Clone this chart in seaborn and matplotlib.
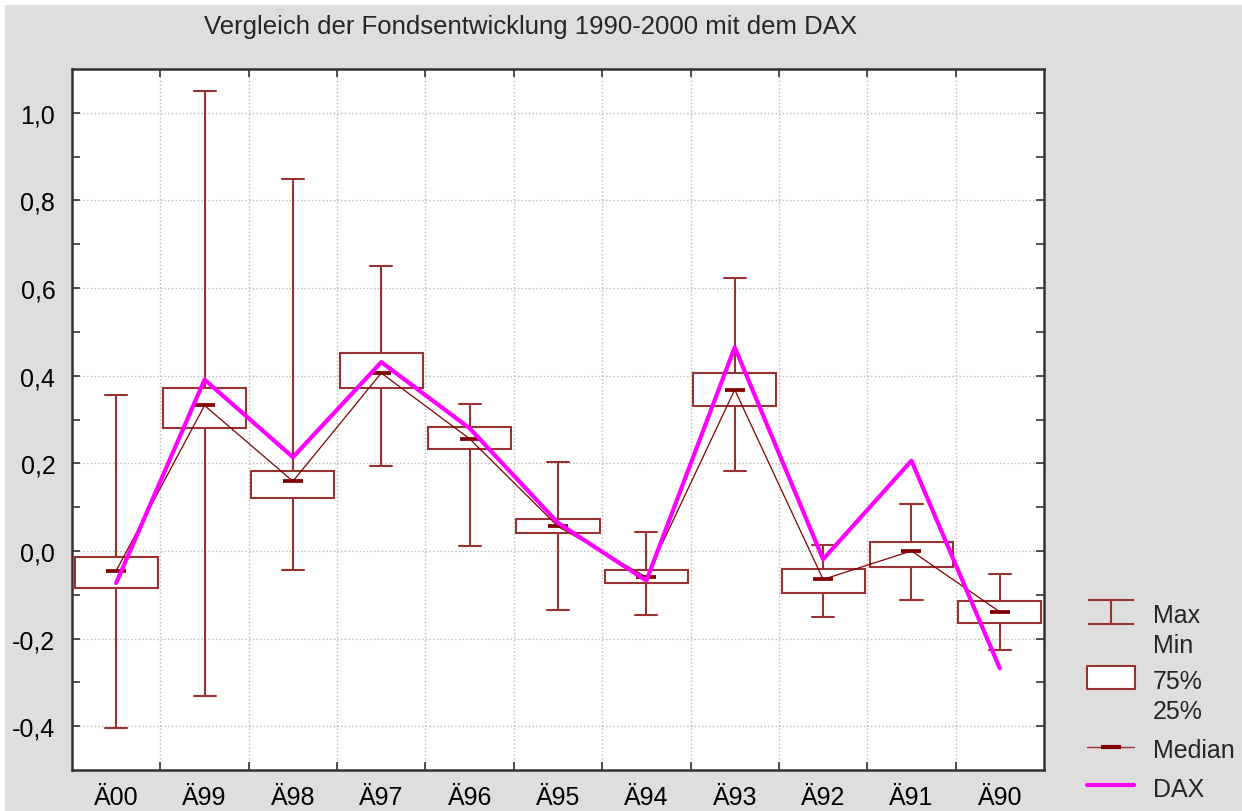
import matplotlib
matplotlib.use('Agg')
import matplotlib.pyplot as plt
import seaborn as sns
import pandas as pd
from matplotlib.path import Path
from matplotlib.patches import Rectangle
from matplotlib.lines import Line2D
from matplotlib.ticker import FixedLocator, FuncFormatter

# Kennzahlen je Jahr
jahre = ['Ä00', 'Ä99', 'Ä98', 'Ä97', 'Ä96', 'Ä95', 'Ä94', 'Ä93', 'Ä92', 'Ä91', 'Ä90']
maximum = [0.356, 1.049, 0.848, 0.651, 0.336, 0.202, 0.044, 0.623, 0.014, 0.108, -0.053]
q75 = [-0.013, 0.372, 0.182, 0.451, 0.284, 0.072, -0.043, 0.406, -0.041, 0.020, -0.114]
median = [-0.045, 0.332, 0.159, 0.406, 0.256, 0.056, -0.060, 0.368, -0.065, 0.000, -0.139]
q25 = [-0.085, 0.281, 0.121, 0.372, 0.233, 0.041, -0.073, 0.330, -0.095, -0.037, -0.164]
minimum = [-0.404, -0.330, -0.043, 0.193, 0.012, -0.134, -0.146, 0.182, -0.150, -0.113, -0.225]
dax = [-0.073, 0.391, 0.214, 0.431, 0.280, 0.064, -0.068, 0.465, -0.019, 0.206, -0.268]

# fuenf Punkte je Jahr ergeben genau Min, 25%, Median, 75%, Max
rows = []
for j, a, b, c, d, e in zip(jahre, minimum, q25, median, q75, maximum):
    for v in (a, b, c, d, e):
        rows.append({'Jahr': j, 'Wert': v})
df = pd.DataFrame(rows)

rot = '#993333'
dunkelrot = '#800000'
magenta = '#ff00ff'

sns.set_theme(style='white')
plt.rcParams['font.family'] = ['Liberation Sans', 'DejaVu Sans']

fig = plt.figure(figsize=(12.42, 8.12), dpi=100, facecolor='white')
fig.patches.append(Rectangle((5 / 1242, 0), 1, 806 / 812, transform=fig.transFigure,
                             facecolor='#dedede', edgecolor='none', zorder=-10))
ax = fig.add_axes([72 / 1242, 41 / 812, 972 / 1242, 701 / 812])

sns.boxplot(data=df, x='Jahr', y='Wert', order=jahre, width=0.94, whis=(0, 100),
            fill=True, color='white', linecolor=rot, linewidth=1.5, showfliers=False,
            medianprops={'visible': False}, capwidths=0.25, ax=ax)

pos = range(len(jahre))
ax.plot(pos, median, color=dunkelrot, lw=0.9, zorder=4)
ax.plot(pos, median, ls='none', marker='_', ms=15, mew=2.7, color=dunkelrot, zorder=4)
ax.plot(pos, dax, color=magenta, lw=3, zorder=5)

ax.set_xlim(-0.5, len(jahre) - 0.5)
ax.set_ylim(-0.5, 1.1)
ax.set_xlabel('')
ax.set_ylabel('')

ax.set_xticks(list(pos))
ax.set_xticklabels(jahre)
ax.xaxis.set_minor_locator(FixedLocator([i + 0.5 for i in range(len(jahre) - 1)]))
ax.set_yticks([-0.4, -0.2, 0.0, 0.2, 0.4, 0.6, 0.8, 1.0])
ax.yaxis.set_minor_locator(FixedLocator([-0.3, -0.1, 0.1, 0.3, 0.5, 0.7, 0.9]))
ax.yaxis.set_major_formatter(FuncFormatter(lambda v, p: f'{v:.1f}'.replace('.', ',').replace('-0,0', '0,0')))

ax.tick_params(axis='x', which='major', length=0, pad=11, labelsize=18, colors='black')
ax.tick_params(axis='x', which='minor', length=6, width=1.2, direction='in', top=True, bottom=True, color='#333333')
ax.tick_params(axis='y', which='both', length=6, width=1.2, direction='in', left=True, right=True,
               color='#333333')
ax.tick_params(axis='y', which='major', pad=12, labelsize=18, labelcolor='black')

ax.grid(which='minor', axis='x', ls=':', color='#b8b8b8', lw=1)
ax.grid(which='major', axis='y', ls=':', color='#b8b8b8', lw=1)
ax.grid(which='major', axis='x', visible=False)
ax.set_axisbelow(True)
for s in ax.spines.values():
    s.set_color('#333333')
    s.set_linewidth(1.8)

fig.text(531 / 1242, 1 - 27 / 812, 'Vergleich der Fondsentwicklung 1990-2000 mit dem DAX',
         ha='center', va='center', fontsize=18.5)

# Legendensymbole, nach oben versetzt auf die erste Textzeile
hoch = 0.74
imax = Path([(-1, hoch + 0.52), (1, hoch + 0.52), (0, hoch + 0.52), (0, hoch - 0.52),
             (-1, hoch - 0.52), (1, hoch - 0.52)],
            [Path.MOVETO, Path.LINETO, Path.MOVETO, Path.LINETO, Path.MOVETO, Path.LINETO])
kasten = Path([(-1, hoch + 0.5), (1, hoch + 0.5), (1, hoch - 0.5), (-1, hoch - 0.5), (-1, hoch + 0.5)],
              [Path.MOVETO, Path.LINETO, Path.LINETO, Path.LINETO, Path.CLOSEPOLY])
handles = [
    Line2D([], [], ls='none', marker=imax, ms=2 * 16.6 * (hoch + 0.52), mew=1.5, mec=rot, mfc='none'),
    Line2D([], [], ls='none', marker=kasten, ms=2 * 17.0 * (hoch + 0.5), mew=1.5, mec=rot, mfc='white'),
    Line2D([], [], color=rot, lw=1, marker='_', ms=15, mew=3, mec=dunkelrot),
    Line2D([], [], color=magenta, lw=3),
]
labels = ['Max\nMin', '75%\n25%', 'Median', 'DAX']
leg = fig.legend(handles, labels, loc='lower left', bbox_to_anchor=(1077 / 1242, 0),
                 borderaxespad=0, frameon=False, fontsize=18, handlelength=1.88, handleheight=1.2,
                 labelspacing=0.5, handletextpad=0.76, numpoints=1)
for t in leg.get_texts():
    t.set_linespacing(1.32)

fig.savefig('out.png', dpi=100, facecolor=fig.get_facecolor())
